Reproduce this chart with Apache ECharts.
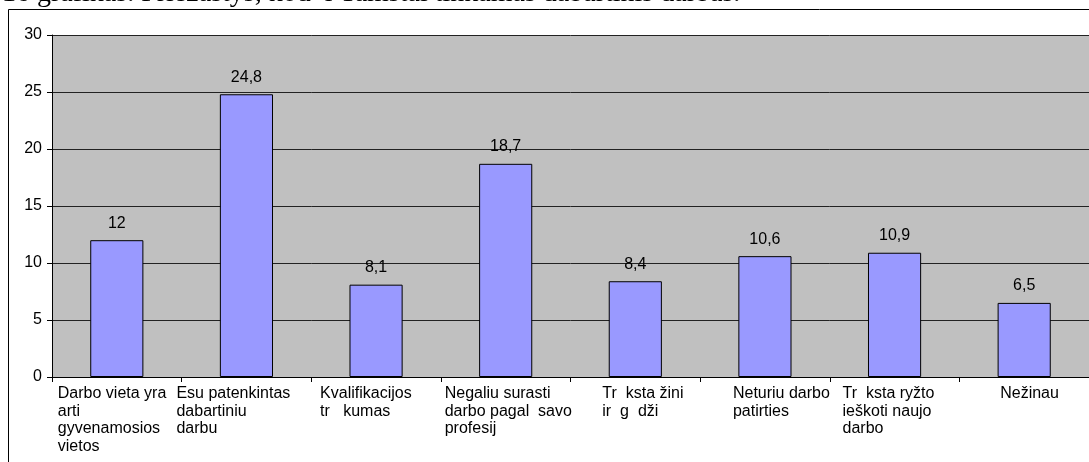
<!DOCTYPE html>
<html>
<head>
<meta charset="utf-8">
<script src="https://cdn.jsdelivr.net/npm/echarts@6/dist/echarts.min.js"></script>
<style>
html,body{margin:0;padding:0;background:#fff;}
#chart{width:1089px;height:462px;}
</style>
</head>
<body>
<div id="chart"></div>
<script>
var categories = [
	'Darbo vieta yra\narti\ngyvenamosios\nvietos',
	'Esu patenkintas\ndabartiniu\ndarbu',
	'Kvalifikacijos\ntr   kumas',
	'Negaliu surasti\ndarbo pagal  savo\nprofesij',
	'Tr  ksta žini\nir  g  dži',
	'Neturiu darbo\npatirties',
	'Tr  ksta ryžto\nieškoti naujo\ndarbo',
	'Nežinau'
];
var values = [12, 24.8, 8.1, 18.7, 8.4, 10.6, 10.9, 6.5];
var yTicks = [0, 5, 10, 15, 20, 25, 30];
var titleText = '16 grafikas. Priežastys, kod  l Tamstai tinkamas dabartinis darbas.';

// label block widths (label is centered, lines left aligned inside)
var labelWidths = [118, 140, 112, 122, 66, 64, 104, 48];

var chart = echarts.init(document.getElementById('chart'));
var rich = {};
labelWidths.forEach(function(w, i){
	rich['l' + i] = {width: w, align: 'left', lineHeight: 17.6, fontSize: 16, color: '#000', fontFamily: 'Liberation Sans, Arial'};
});

var option = {
	animation: false,
	backgroundColor: '#fff',
	grid: {left: 52, right: 0, top: 35, bottom: 85},
	graphic: [
		{type: 'rect', shape: {x: 8.5, y: 9.5, width: 1200, height: 600}, style: {fill: 'none', stroke: '#000', lineWidth: 1}, z: -10},
		{type: 'text', x: 2, y: 8, style: {text: titleText, fontFamily: 'Liberation Serif, Times New Roman', fontSize: 28, fill: '#000', verticalAlign: 'bottom'}}
	],
	xAxis: {
		type: 'category',
		data: categories,
		axisLine: {show: true, lineStyle: {color: '#000', width: 1}},
		axisTick: {show: true, length: 5, lineStyle: {color: '#000'}},
		axisLabel: {
			interval: 0,
			margin: 8,
			align: 'center',
			verticalAlign: 'top',
			rich: rich,
			formatter: function(value, index){
				return value.split('\n').map(function(line){
					return '{l' + index + '|' + line + '}';
				}).join('\n');
			}
		},
		splitLine: {show: false}
	},
	yAxis: {
		type: 'value',
		min: yTicks[0],
		max: yTicks[yTicks.length - 1],
		interval: 5,
		axisLine: {show: true, lineStyle: {color: '#000', width: 1}},
		axisTick: {show: true, length: 5, lineStyle: {color: '#000'}},
		axisLabel: {color: '#000', fontSize: 16, fontFamily: 'Liberation Sans, Arial', margin: 10},
		splitLine: {show: true, lineStyle: {color: '#222', width: 1}},
		splitArea: {show: true, areaStyle: {color: ['#c0c0c0', '#c0c0c0']}}
	},
	series: [{
		type: 'bar',
		data: values,
		barWidth: '41%',
		itemStyle: {color: '#9999ff', borderColor: '#000', borderWidth: 1},
		label: {
			show: true,
			position: 'top',
			distance: 9,
			color: '#000',
			fontSize: 16,
			fontFamily: 'Liberation Sans, Arial',
			formatter: function(p){ return String(p.value).replace('.', ','); }
		}
	}]
};
chart.setOption(option);
</script>
</body>
</html>
